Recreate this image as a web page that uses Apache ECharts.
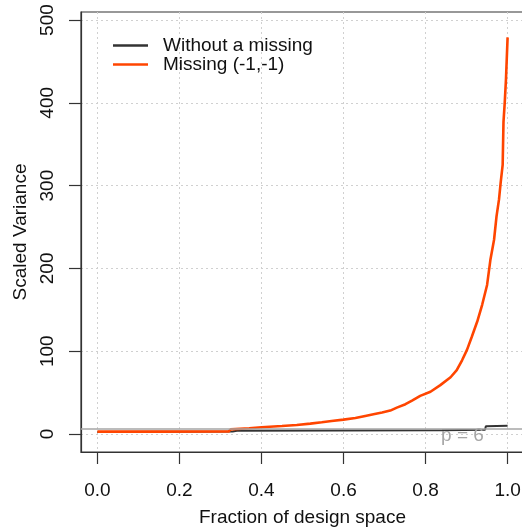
<!DOCTYPE html>
<html>
<head>
<meta charset="utf-8">
<script src="https://cdn.jsdelivr.net/npm/echarts@6/dist/echarts.min.js"></script>
<style>
  html, body { margin: 0; padding: 0; background: #ffffff; }
  #chart { width: 522px; height: 529px; }
</style>
</head>
<body>
<div id="chart"></div>
<script>
// Fraction of design space (FDS) curves: sorted scaled prediction variance
const fracFull = [0, 0.145, 0.33, 0.34, 0.6, 0.84, 0.945, 0.947, 1.0];
const varFull = [2.4, 2.7, 2.9, 3.8, 4.2, 4.6, 5.2, 9.4, 9.8];

const fracMissing = [0, 0.14, 0.32, 0.325, 0.37, 0.40, 0.45, 0.486, 0.519, 0.547, 0.571, 0.600,
  0.629, 0.653, 0.673, 0.694, 0.714, 0.730, 0.751, 0.767, 0.787, 0.812, 0.836, 0.861, 0.876,
  0.889, 0.901, 0.913, 0.926, 0.938, 0.950, 0.958, 0.967, 0.973, 0.979, 0.983, 0.988, 0.990,
  0.993, 0.996, 1.0];
const varMissing = [2.8, 2.8, 3.0, 5.5, 6.9, 8.1, 9.7, 10.9, 12.5, 14.1, 15.7, 17.3,
  19.3, 21.8, 23.8, 25.8, 28.2, 31.8, 35.9, 40.3, 46, 51, 59, 68.5, 77,
  89, 101.5, 117.7, 135.8, 156, 180, 210, 234.6, 262.8, 283, 303, 325, 377,
  400, 428, 479];

const seriesNames = ['Without a missing', 'Missing (-1,-1)'];
const refLevel = 6;
const refLabel = 'p = 6';

const xTicks = [0, 0.2, 0.4, 0.6, 0.8, 1.0];
const yTicks = [0, 100, 200, 300, 400, 500];

const font = 'Liberation Sans, Arial, sans-serif';
const zip = (a, b) => a.map((v, i) => [v, b[i]]);

const chart = echarts.init(document.getElementById('chart'));
chart.setOption({
  animation: false,
  backgroundColor: '#ffffff',
  grid: {
    left: 81, top: 12, right: -2, bottom: 77,
    outerBoundsMode: 'none', containLabel: false,
    show: true, borderColor: '#333333', borderWidth: 1.2, backgroundColor: 'transparent'
  },
  legend: {
    orient: 'vertical', left: 113, top: 36, padding: 0, itemGap: 0,
    itemWidth: 35, itemHeight: 2.5, icon: 'rect',
    textStyle: { fontFamily: font, fontSize: 19, color: '#111', lineHeight: 18, padding: [0, 0, 0, 10] },
    data: seriesNames
  },
  xAxis: {
    type: 'value', min: -0.04, max: 1.04,
    name: 'Fraction of design space', nameLocation: 'middle', nameGap: 56,
    nameTextStyle: { fontFamily: font, fontSize: 19, color: '#111' },
    axisLine: { show: true, onZero: false, lineStyle: { color: '#333', width: 1.2 } },
    axisTick: { show: true, length: 12, customValues: xTicks, lineStyle: { color: '#333', width: 1.2 } },
    axisLabel: {
      customValues: xTicks, margin: 29, fontFamily: font, fontSize: 19, color: '#111',
      formatter: v => v.toFixed(1)
    },
    splitLine: { show: true, customValues: xTicks, lineStyle: { color: '#d0d0d0', type: [2, 3], width: 1 } }
  },
  yAxis: {
    type: 'value', min: -21.8, max: 509.7,
    name: 'Scaled Variance', nameLocation: 'middle', nameGap: 45,
    nameTextStyle: { fontFamily: font, fontSize: 19, color: '#111' },
    axisLine: { show: true, onZero: false, lineStyle: { color: '#333', width: 1.2 } },
    axisTick: { show: true, length: 12, customValues: yTicks, lineStyle: { color: '#333', width: 1.2 } },
    axisLabel: {
      customValues: yTicks, rotate: 90, margin: 24, fontFamily: font, fontSize: 19, color: '#111'
    },
    splitLine: { show: true, customValues: yTicks, lineStyle: { color: '#d0d0d0', type: [2, 3], width: 1 } }
  },
  series: [
    {
      name: seriesNames[0], type: 'line', data: zip(fracFull, varFull),
      showSymbol: false, symbol: 'none', z: 3,
      color: '#333333', lineStyle: { color: '#333333', width: 2 },
      markLine: {
        silent: true, symbol: 'none', label: { show: false },
        lineStyle: { color: '#a6a6a6', type: 'solid', width: 1.5 },
        data: [{ yAxis: refLevel }]
      },
      markPoint: {
        silent: true, symbol: 'circle', symbolSize: 0,
        label: {
          show: true, position: 'inside', offset: [0, 7], formatter: refLabel,
          fontFamily: font, fontSize: 19, color: '#a6a6a6'
        },
        data: [{ coord: [0.89, refLevel] }]
      }
    },
    {
      name: seriesNames[1], type: 'line', data: zip(fracMissing, varMissing),
      showSymbol: false, symbol: 'none', z: 4,
      color: '#ff4500', lineStyle: { color: '#ff4500', width: 2.6 }
    }
  ]
});
</script>
</body>
</html>
